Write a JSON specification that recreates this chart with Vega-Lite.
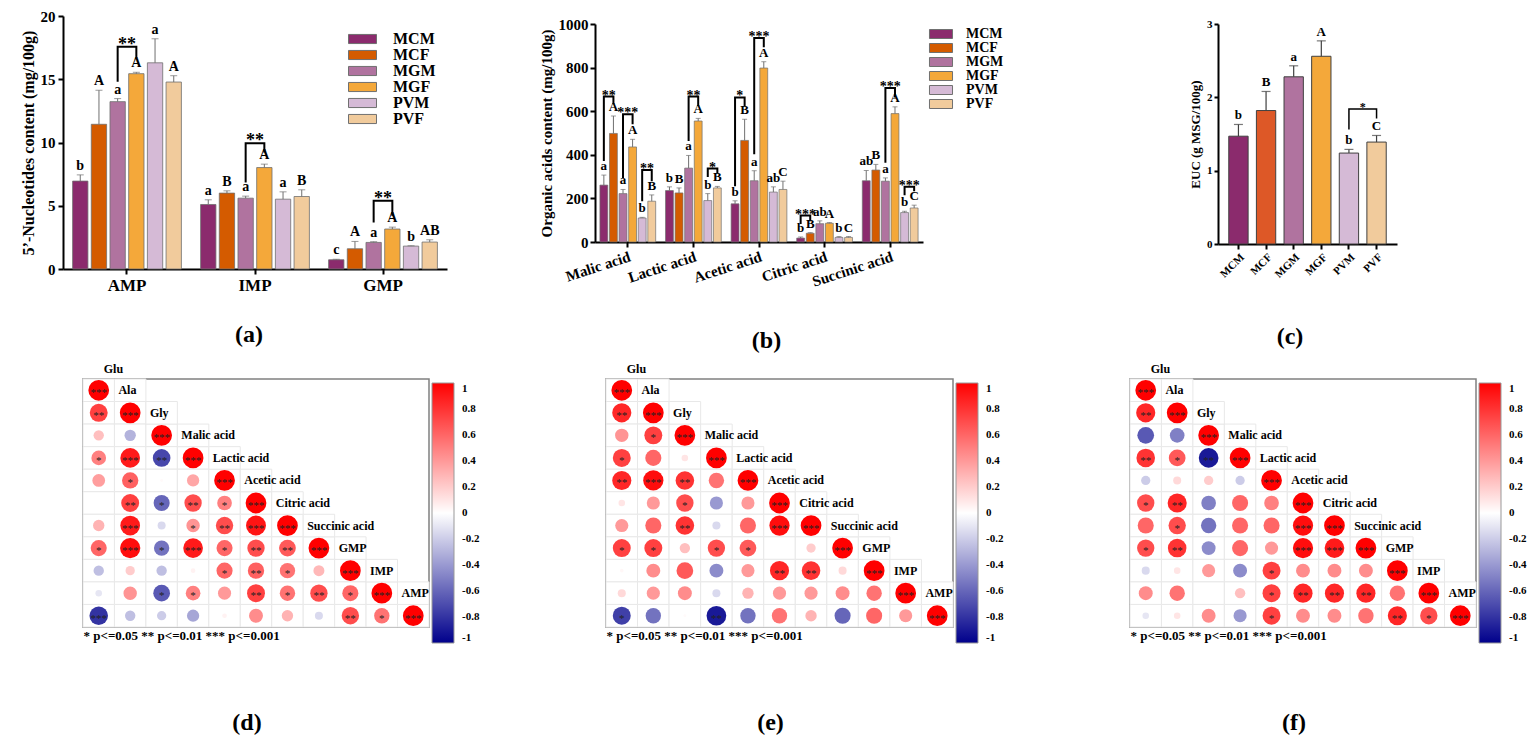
{
  "$schema": "https://vega.github.io/schema/vega-lite/v6.json",
  "background": "white",
  "padding": {"left": 20, "top": 9, "right": 5, "bottom": 5},
  "columns": 3,
  "bounds": "flush",
  "align": "each",
  "spacing": {"row": 110, "column": 177},
  "resolve": {
    "scale": {"color": "independent", "size": "independent", "xOffset": "independent"},
    "legend": {"color": "independent"}
  },
  "datasets": {
    "a": [
      {"cat": "AMP", "grp": "MCM", "v": 6.95, "e": 7.44, "lt": "b"},
      {"cat": "AMP", "grp": "MCF", "v": 11.44, "e": 14.13, "lt": "A"},
      {"cat": "AMP", "grp": "MGM", "v": 13.23, "e": 13.47, "lt": "a"},
      {"cat": "AMP", "grp": "MGF", "v": 15.44, "e": 15.55, "lt": "A"},
      {"cat": "AMP", "grp": "PVM", "v": 16.3, "e": 18.2, "lt": "a"},
      {"cat": "AMP", "grp": "PVF", "v": 14.78, "e": 15.28, "lt": "A"},
      {"cat": "IMP", "grp": "MCM", "v": 5.1, "e": 5.47, "lt": "a"},
      {"cat": "IMP", "grp": "MCF", "v": 6.0, "e": 6.18, "lt": "B"},
      {"cat": "IMP", "grp": "MGM", "v": 5.6, "e": 5.76, "lt": "a"},
      {"cat": "IMP", "grp": "MGF", "v": 8.02, "e": 8.29, "lt": "A"},
      {"cat": "IMP", "grp": "PVM", "v": 5.52, "e": 6.1, "lt": "a"},
      {"cat": "IMP", "grp": "PVF", "v": 5.73, "e": 6.26, "lt": "B"},
      {"cat": "GMP", "grp": "MCM", "v": 0.73, "e": 0.78, "lt": "c"},
      {"cat": "GMP", "grp": "MCF", "v": 1.6, "e": 2.18, "lt": "A"},
      {"cat": "GMP", "grp": "MGM", "v": 2.1, "e": 2.16, "lt": "a"},
      {"cat": "GMP", "grp": "MGF", "v": 3.16, "e": 3.31, "lt": "A"},
      {"cat": "GMP", "grp": "PVM", "v": 1.81, "e": 1.84, "lt": "b"},
      {"cat": "GMP", "grp": "PVF", "v": 2.13, "e": 2.31, "lt": "AB"}
    ],
    "abr": [
      {"cat": "AMP", "grp": "MGM", "y": 14.8, "id": 1, "k": 1},
      {"cat": "AMP", "grp": "MGM", "y": 17.57, "id": 1, "k": 2},
      {"cat": "AMP", "grp": "MGF", "y": 17.57, "id": 1, "k": 3},
      {"cat": "AMP", "grp": "MGF", "y": 16.7, "id": 1, "k": 4},
      {"cat": "IMP", "grp": "MGM", "y": 6.84, "id": 2, "k": 1},
      {"cat": "IMP", "grp": "MGM", "y": 9.94, "id": 2, "k": 2},
      {"cat": "IMP", "grp": "MGF", "y": 9.94, "id": 2, "k": 3},
      {"cat": "IMP", "grp": "MGF", "y": 9.2, "id": 2, "k": 4},
      {"cat": "GMP", "grp": "MGM", "y": 3.68, "id": 3, "k": 1},
      {"cat": "GMP", "grp": "MGM", "y": 5.39, "id": 3, "k": 2},
      {"cat": "GMP", "grp": "MGF", "y": 5.39, "id": 3, "k": 3},
      {"cat": "GMP", "grp": "MGF", "y": 4.2, "id": 3, "k": 4}
    ],
    "ast": [
      {"cat": "AMP", "grp": "MGM", "y": 17.57, "t": "**"},
      {"cat": "IMP", "grp": "MGM", "y": 9.94, "t": "**"},
      {"cat": "GMP", "grp": "MGM", "y": 5.39, "t": "**"}
    ],
    "b": [
      {"cat": "Malic acid", "grp": "MCM", "v": 261, "e": 307, "lt": "a"},
      {"cat": "Malic acid", "grp": "MCF", "v": 498, "e": 578, "lt": "A"},
      {"cat": "Malic acid", "grp": "MGM", "v": 222, "e": 241, "lt": "a"},
      {"cat": "Malic acid", "grp": "MGF", "v": 436, "e": 471, "lt": "A"},
      {"cat": "Malic acid", "grp": "PVM", "v": 110, "e": 113, "lt": "b"},
      {"cat": "Malic acid", "grp": "PVF", "v": 187, "e": 216, "lt": "B"},
      {"cat": "Lactic acid", "grp": "MCM", "v": 236, "e": 253, "lt": "b"},
      {"cat": "Lactic acid", "grp": "MCF", "v": 225, "e": 248, "lt": "B"},
      {"cat": "Lactic acid", "grp": "MGM", "v": 339, "e": 397, "lt": "a"},
      {"cat": "Lactic acid", "grp": "MGF", "v": 555, "e": 567, "lt": "A"},
      {"cat": "Lactic acid", "grp": "PVM", "v": 190, "e": 222, "lt": "b"},
      {"cat": "Lactic acid", "grp": "PVF", "v": 248, "e": 255, "lt": "B"},
      {"cat": "Acetic acid", "grp": "MCM", "v": 175, "e": 189, "lt": "b"},
      {"cat": "Acetic acid", "grp": "MCF", "v": 466, "e": 563, "lt": "B"},
      {"cat": "Acetic acid", "grp": "MGM", "v": 281, "e": 327, "lt": "a"},
      {"cat": "Acetic acid", "grp": "MGF", "v": 798, "e": 827, "lt": "A"},
      {"cat": "Acetic acid", "grp": "PVM", "v": 229, "e": 253, "lt": "ab"},
      {"cat": "Acetic acid", "grp": "PVF", "v": 241, "e": 279, "lt": "C"},
      {"cat": "Citric acid", "grp": "MCM", "v": 18, "e": 23, "lt": "b"},
      {"cat": "Citric acid", "grp": "MCF", "v": 40, "e": 43, "lt": "B"},
      {"cat": "Citric acid", "grp": "MGM", "v": 84, "e": 97, "lt": "ab"},
      {"cat": "Citric acid", "grp": "MGF", "v": 86, "e": 89, "lt": "A"},
      {"cat": "Citric acid", "grp": "PVM", "v": 21, "e": 25, "lt": "b"},
      {"cat": "Citric acid", "grp": "PVF", "v": 21, "e": 25, "lt": "C"},
      {"cat": "Succinic acid", "grp": "MCM", "v": 281, "e": 328, "lt": "ab"},
      {"cat": "Succinic acid", "grp": "MCF", "v": 330, "e": 356, "lt": "B"},
      {"cat": "Succinic acid", "grp": "MGM", "v": 279, "e": 294, "lt": "a"},
      {"cat": "Succinic acid", "grp": "MGF", "v": 589, "e": 620, "lt": "A"},
      {"cat": "Succinic acid", "grp": "PVM", "v": 135, "e": 141, "lt": "b"},
      {"cat": "Succinic acid", "grp": "PVF", "v": 156, "e": 169, "lt": "C"}
    ],
    "bbr": [
      {"cat": "Malic acid", "grp": "MCM", "y": 371, "id": 1, "k": 1},
      {"cat": "Malic acid", "grp": "MCM", "y": 667, "id": 1, "k": 2},
      {"cat": "Malic acid", "grp": "MCF", "y": 667, "id": 1, "k": 3},
      {"cat": "Malic acid", "grp": "MCF", "y": 632, "id": 1, "k": 4},
      {"cat": "Malic acid", "grp": "MGM", "y": 294, "id": 2, "k": 1},
      {"cat": "Malic acid", "grp": "MGM", "y": 586, "id": 2, "k": 2},
      {"cat": "Malic acid", "grp": "MGF", "y": 586, "id": 2, "k": 3},
      {"cat": "Malic acid", "grp": "MGF", "y": 540, "id": 2, "k": 4},
      {"cat": "Malic acid", "grp": "PVM", "y": 187, "id": 3, "k": 1},
      {"cat": "Malic acid", "grp": "PVM", "y": 330, "id": 3, "k": 2},
      {"cat": "Malic acid", "grp": "PVF", "y": 330, "id": 3, "k": 3},
      {"cat": "Malic acid", "grp": "PVF", "y": 279, "id": 3, "k": 4},
      {"cat": "Lactic acid", "grp": "MGM", "y": 463, "id": 4, "k": 1},
      {"cat": "Lactic acid", "grp": "MGM", "y": 667, "id": 4, "k": 2},
      {"cat": "Lactic acid", "grp": "MGF", "y": 667, "id": 4, "k": 3},
      {"cat": "Lactic acid", "grp": "MGF", "y": 624, "id": 4, "k": 4},
      {"cat": "Lactic acid", "grp": "PVM", "y": 298, "id": 5, "k": 1},
      {"cat": "Lactic acid", "grp": "PVM", "y": 337, "id": 5, "k": 2},
      {"cat": "Lactic acid", "grp": "PVF", "y": 337, "id": 5, "k": 3},
      {"cat": "Lactic acid", "grp": "PVF", "y": 317, "id": 5, "k": 4},
      {"cat": "Acetic acid", "grp": "MCM", "y": 256, "id": 6, "k": 1},
      {"cat": "Acetic acid", "grp": "MCM", "y": 663, "id": 6, "k": 2},
      {"cat": "Acetic acid", "grp": "MCF", "y": 663, "id": 6, "k": 3},
      {"cat": "Acetic acid", "grp": "MCF", "y": 624, "id": 6, "k": 4},
      {"cat": "Acetic acid", "grp": "MGM", "y": 402, "id": 7, "k": 1},
      {"cat": "Acetic acid", "grp": "MGM", "y": 936, "id": 7, "k": 2},
      {"cat": "Acetic acid", "grp": "MGF", "y": 936, "id": 7, "k": 3},
      {"cat": "Acetic acid", "grp": "MGF", "y": 893, "id": 7, "k": 4},
      {"cat": "Citric acid", "grp": "MCM", "y": 83, "id": 8, "k": 1},
      {"cat": "Citric acid", "grp": "MCM", "y": 121, "id": 8, "k": 2},
      {"cat": "Citric acid", "grp": "MCF", "y": 121, "id": 8, "k": 3},
      {"cat": "Citric acid", "grp": "MCF", "y": 95, "id": 8, "k": 4},
      {"cat": "Succinic acid", "grp": "MGM", "y": 363, "id": 9, "k": 1},
      {"cat": "Succinic acid", "grp": "MGM", "y": 706, "id": 9, "k": 2},
      {"cat": "Succinic acid", "grp": "MGF", "y": 706, "id": 9, "k": 3},
      {"cat": "Succinic acid", "grp": "MGF", "y": 663, "id": 9, "k": 4},
      {"cat": "Succinic acid", "grp": "PVM", "y": 215, "id": 10, "k": 1},
      {"cat": "Succinic acid", "grp": "PVM", "y": 253, "id": 10, "k": 2},
      {"cat": "Succinic acid", "grp": "PVF", "y": 253, "id": 10, "k": 3},
      {"cat": "Succinic acid", "grp": "PVF", "y": 233, "id": 10, "k": 4}
    ],
    "bst": [
      {"cat": "Malic acid", "grp": "MCM", "y": 667, "t": "**"},
      {"cat": "Malic acid", "grp": "MGM", "y": 586, "t": "***"},
      {"cat": "Malic acid", "grp": "PVM", "y": 330, "t": "**"},
      {"cat": "Lactic acid", "grp": "MGM", "y": 667, "t": "**"},
      {"cat": "Lactic acid", "grp": "PVM", "y": 337, "t": "*"},
      {"cat": "Acetic acid", "grp": "MCM", "y": 663, "t": "*"},
      {"cat": "Acetic acid", "grp": "MGM", "y": 936, "t": "***"},
      {"cat": "Citric acid", "grp": "MCM", "y": 121, "t": "***"},
      {"cat": "Succinic acid", "grp": "MGM", "y": 706, "t": "***"},
      {"cat": "Succinic acid", "grp": "PVM", "y": 253, "t": "***"}
    ],
    "c": [
      {"grp": "MCM", "v": 1.47, "e": 1.63, "lt": "b"},
      {"grp": "MCF", "v": 1.82, "e": 2.08, "lt": "B"},
      {"grp": "MGM", "v": 2.28, "e": 2.43, "lt": "a"},
      {"grp": "MGF", "v": 2.56, "e": 2.77, "lt": "A"},
      {"grp": "PVM", "v": 1.24, "e": 1.29, "lt": "b"},
      {"grp": "PVF", "v": 1.39, "e": 1.48, "lt": "C"}
    ],
    "cbr": [
      {"grp": "PVM", "y": 1.56, "id": 1, "k": 1},
      {"grp": "PVM", "y": 1.84, "id": 1, "k": 2},
      {"grp": "PVF", "y": 1.84, "id": 1, "k": 3},
      {"grp": "PVF", "y": 1.71, "id": 1, "k": 4}
    ],
    "cst": [{"grp": "PVM", "y": 1.84, "t": "*"}],
    "lab": [
      {"name": "Ala", "row": "Glu"},
      {"name": "Gly", "row": "Ala"},
      {"name": "Malic acid", "row": "Gly"},
      {"name": "Lactic acid", "row": "Malic acid"},
      {"name": "Acetic acid", "row": "Lactic acid"},
      {"name": "Citric acid", "row": "Acetic acid"},
      {"name": "Succinic acid", "row": "Citric acid"},
      {"name": "GMP", "row": "Succinic acid"},
      {"name": "IMP", "row": "GMP"},
      {"name": "AMP", "row": "IMP"}
    ],
    "d": [
      {"row": "Glu", "col": "Glu", "r": 1, "s": "***"},
      {"row": "Ala", "col": "Glu", "r": 0.75, "s": "**"},
      {"row": "Ala", "col": "Ala", "r": 1, "s": "***"},
      {"row": "Gly", "col": "Glu", "r": 0.25, "s": ""},
      {"row": "Gly", "col": "Ala", "r": -0.3, "s": ""},
      {"row": "Gly", "col": "Gly", "r": 1, "s": "***"},
      {"row": "Malic acid", "col": "Glu", "r": 0.5, "s": "*"},
      {"row": "Malic acid", "col": "Ala", "r": 0.9, "s": "***"},
      {"row": "Malic acid", "col": "Gly", "r": -0.72, "s": "**"},
      {"row": "Malic acid", "col": "Malic acid", "r": 1, "s": "***"},
      {"row": "Lactic acid", "col": "Glu", "r": 0.38, "s": ""},
      {"row": "Lactic acid", "col": "Ala", "r": 0.62, "s": "*"},
      {"row": "Lactic acid", "col": "Gly", "r": 0.02, "s": ""},
      {"row": "Lactic acid", "col": "Malic acid", "r": 0.35, "s": ""},
      {"row": "Lactic acid", "col": "Lactic acid", "r": 1, "s": "***"},
      {"row": "Acetic acid", "col": "Glu", "r": 0, "s": ""},
      {"row": "Acetic acid", "col": "Ala", "r": 0.75, "s": "**"},
      {"row": "Acetic acid", "col": "Gly", "r": -0.6, "s": "*"},
      {"row": "Acetic acid", "col": "Malic acid", "r": 0.7, "s": "**"},
      {"row": "Acetic acid", "col": "Lactic acid", "r": 0.5, "s": "*"},
      {"row": "Acetic acid", "col": "Acetic acid", "r": 1, "s": "***"},
      {"row": "Citric acid", "col": "Glu", "r": 0.3, "s": ""},
      {"row": "Citric acid", "col": "Ala", "r": 0.9, "s": "***"},
      {"row": "Citric acid", "col": "Gly", "r": -0.15, "s": ""},
      {"row": "Citric acid", "col": "Malic acid", "r": 0.42, "s": "*"},
      {"row": "Citric acid", "col": "Lactic acid", "r": 0.7, "s": "**"},
      {"row": "Citric acid", "col": "Acetic acid", "r": 0.92, "s": "***"},
      {"row": "Citric acid", "col": "Citric acid", "r": 1, "s": "***"},
      {"row": "Succinic acid", "col": "Glu", "r": 0.6, "s": "*"},
      {"row": "Succinic acid", "col": "Ala", "r": 0.95, "s": "***"},
      {"row": "Succinic acid", "col": "Gly", "r": -0.55, "s": "*"},
      {"row": "Succinic acid", "col": "Malic acid", "r": 0.9, "s": "***"},
      {"row": "Succinic acid", "col": "Lactic acid", "r": 0.6, "s": "*"},
      {"row": "Succinic acid", "col": "Acetic acid", "r": 0.7, "s": "**"},
      {"row": "Succinic acid", "col": "Citric acid", "r": 0.65, "s": "**"},
      {"row": "Succinic acid", "col": "Succinic acid", "r": 1, "s": "***"},
      {"row": "GMP", "col": "Glu", "r": -0.25, "s": ""},
      {"row": "GMP", "col": "Ala", "r": 0.2, "s": ""},
      {"row": "GMP", "col": "Gly", "r": -0.25, "s": ""},
      {"row": "GMP", "col": "Malic acid", "r": 0.05, "s": ""},
      {"row": "GMP", "col": "Lactic acid", "r": 0.6, "s": "*"},
      {"row": "GMP", "col": "Acetic acid", "r": 0.62, "s": "**"},
      {"row": "GMP", "col": "Citric acid", "r": 0.55, "s": "*"},
      {"row": "GMP", "col": "Succinic acid", "r": 0.28, "s": ""},
      {"row": "GMP", "col": "GMP", "r": 1, "s": "***"},
      {"row": "IMP", "col": "Glu", "r": -0.1, "s": ""},
      {"row": "IMP", "col": "Ala", "r": 0.42, "s": ""},
      {"row": "IMP", "col": "Gly", "r": -0.65, "s": "*"},
      {"row": "IMP", "col": "Malic acid", "r": 0.5, "s": "*"},
      {"row": "IMP", "col": "Lactic acid", "r": 0.4, "s": ""},
      {"row": "IMP", "col": "Acetic acid", "r": 0.75, "s": "**"},
      {"row": "IMP", "col": "Citric acid", "r": 0.55, "s": "*"},
      {"row": "IMP", "col": "Succinic acid", "r": 0.7, "s": "**"},
      {"row": "IMP", "col": "GMP", "r": 0.6, "s": "*"},
      {"row": "IMP", "col": "IMP", "r": 1, "s": "***"},
      {"row": "AMP", "col": "Glu", "r": -0.8, "s": "***"},
      {"row": "AMP", "col": "Ala", "r": -0.25, "s": ""},
      {"row": "AMP", "col": "Gly", "r": -0.2, "s": ""},
      {"row": "AMP", "col": "Malic acid", "r": -0.35, "s": ""},
      {"row": "AMP", "col": "Lactic acid", "r": 0.05, "s": ""},
      {"row": "AMP", "col": "Acetic acid", "r": 0.45, "s": ""},
      {"row": "AMP", "col": "Citric acid", "r": 0.3, "s": ""},
      {"row": "AMP", "col": "Succinic acid", "r": -0.15, "s": ""},
      {"row": "AMP", "col": "GMP", "r": 0.7, "s": "**"},
      {"row": "AMP", "col": "IMP", "r": 0.55, "s": "*"},
      {"row": "AMP", "col": "AMP", "r": 1, "s": "***"}
    ],
    "e": [
      {"row": "Glu", "col": "Glu", "r": 1, "s": "***"},
      {"row": "Ala", "col": "Glu", "r": 0.85, "s": "**"},
      {"row": "Ala", "col": "Ala", "r": 1, "s": "***"},
      {"row": "Gly", "col": "Glu", "r": 0.42, "s": ""},
      {"row": "Gly", "col": "Ala", "r": 0.75, "s": "*"},
      {"row": "Gly", "col": "Gly", "r": 1, "s": "***"},
      {"row": "Malic acid", "col": "Glu", "r": 0.75, "s": "*"},
      {"row": "Malic acid", "col": "Ala", "r": 0.6, "s": ""},
      {"row": "Malic acid", "col": "Gly", "r": 0.1, "s": ""},
      {"row": "Malic acid", "col": "Malic acid", "r": 1, "s": "***"},
      {"row": "Lactic acid", "col": "Glu", "r": 0.85, "s": "**"},
      {"row": "Lactic acid", "col": "Ala", "r": 0.95, "s": "***"},
      {"row": "Lactic acid", "col": "Gly", "r": 0.8, "s": "**"},
      {"row": "Lactic acid", "col": "Malic acid", "r": 0.55, "s": ""},
      {"row": "Lactic acid", "col": "Lactic acid", "r": 1, "s": "***"},
      {"row": "Acetic acid", "col": "Glu", "r": 0.1, "s": ""},
      {"row": "Acetic acid", "col": "Ala", "r": 0.4, "s": ""},
      {"row": "Acetic acid", "col": "Gly", "r": 0.7, "s": "*"},
      {"row": "Acetic acid", "col": "Malic acid", "r": -0.4, "s": ""},
      {"row": "Acetic acid", "col": "Lactic acid", "r": 0.4, "s": ""},
      {"row": "Acetic acid", "col": "Acetic acid", "r": 1, "s": "***"},
      {"row": "Citric acid", "col": "Glu", "r": 0.4, "s": ""},
      {"row": "Citric acid", "col": "Ala", "r": 0.6, "s": ""},
      {"row": "Citric acid", "col": "Gly", "r": 0.8, "s": "**"},
      {"row": "Citric acid", "col": "Malic acid", "r": -0.15, "s": ""},
      {"row": "Citric acid", "col": "Lactic acid", "r": 0.6, "s": ""},
      {"row": "Citric acid", "col": "Acetic acid", "r": 0.95, "s": "***"},
      {"row": "Citric acid", "col": "Citric acid", "r": 1, "s": "***"},
      {"row": "Succinic acid", "col": "Glu", "r": 0.75, "s": "*"},
      {"row": "Succinic acid", "col": "Ala", "r": 0.75, "s": "*"},
      {"row": "Succinic acid", "col": "Gly", "r": 0.25, "s": ""},
      {"row": "Succinic acid", "col": "Malic acid", "r": 0.7, "s": "*"},
      {"row": "Succinic acid", "col": "Lactic acid", "r": 0.65, "s": "*"},
      {"row": "Succinic acid", "col": "Acetic acid", "r": 0, "s": ""},
      {"row": "Succinic acid", "col": "Citric acid", "r": 0.2, "s": ""},
      {"row": "Succinic acid", "col": "Succinic acid", "r": 1, "s": "***"},
      {"row": "GMP", "col": "Glu", "r": 0.03, "s": ""},
      {"row": "GMP", "col": "Ala", "r": 0.45, "s": ""},
      {"row": "GMP", "col": "Gly", "r": 0.65, "s": ""},
      {"row": "GMP", "col": "Malic acid", "r": -0.45, "s": ""},
      {"row": "GMP", "col": "Lactic acid", "r": 0.4, "s": ""},
      {"row": "GMP", "col": "Acetic acid", "r": 0.85, "s": "**"},
      {"row": "GMP", "col": "Citric acid", "r": 0.8, "s": "**"},
      {"row": "GMP", "col": "Succinic acid", "r": 0.15, "s": ""},
      {"row": "GMP", "col": "GMP", "r": 1, "s": "***"},
      {"row": "IMP", "col": "Glu", "r": 0.15, "s": ""},
      {"row": "IMP", "col": "Ala", "r": 0.4, "s": ""},
      {"row": "IMP", "col": "Gly", "r": 0.45, "s": ""},
      {"row": "IMP", "col": "Malic acid", "r": -0.15, "s": ""},
      {"row": "IMP", "col": "Lactic acid", "r": 0.3, "s": ""},
      {"row": "IMP", "col": "Acetic acid", "r": 0.4, "s": ""},
      {"row": "IMP", "col": "Citric acid", "r": 0.4, "s": ""},
      {"row": "IMP", "col": "Succinic acid", "r": 0.45, "s": ""},
      {"row": "IMP", "col": "GMP", "r": 0.55, "s": ""},
      {"row": "IMP", "col": "IMP", "r": 1, "s": "***"},
      {"row": "AMP", "col": "Glu", "r": -0.75, "s": "*"},
      {"row": "AMP", "col": "Ala", "r": -0.55, "s": ""},
      {"row": "AMP", "col": "Gly", "r": 0.02, "s": ""},
      {"row": "AMP", "col": "Malic acid", "r": -0.9, "s": "**"},
      {"row": "AMP", "col": "Lactic acid", "r": -0.55, "s": ""},
      {"row": "AMP", "col": "Acetic acid", "r": 0.55, "s": ""},
      {"row": "AMP", "col": "Citric acid", "r": 0.3, "s": ""},
      {"row": "AMP", "col": "Succinic acid", "r": -0.6, "s": ""},
      {"row": "AMP", "col": "GMP", "r": 0.6, "s": ""},
      {"row": "AMP", "col": "IMP", "r": 0.4, "s": ""},
      {"row": "AMP", "col": "AMP", "r": 1, "s": "***"}
    ],
    "f": [
      {"row": "Glu", "col": "Glu", "r": 1, "s": "***"},
      {"row": "Ala", "col": "Glu", "r": 0.85, "s": "**"},
      {"row": "Ala", "col": "Ala", "r": 1, "s": "***"},
      {"row": "Gly", "col": "Glu", "r": -0.65, "s": ""},
      {"row": "Gly", "col": "Ala", "r": -0.5, "s": ""},
      {"row": "Gly", "col": "Gly", "r": 1, "s": "***"},
      {"row": "Malic acid", "col": "Glu", "r": 0.8, "s": "**"},
      {"row": "Malic acid", "col": "Ala", "r": 0.65, "s": "*"},
      {"row": "Malic acid", "col": "Gly", "r": -0.9, "s": "**"},
      {"row": "Malic acid", "col": "Malic acid", "r": 1, "s": "***"},
      {"row": "Lactic acid", "col": "Glu", "r": -0.2, "s": ""},
      {"row": "Lactic acid", "col": "Ala", "r": 0.15, "s": ""},
      {"row": "Lactic acid", "col": "Gly", "r": 0.2, "s": ""},
      {"row": "Lactic acid", "col": "Malic acid", "r": -0.2, "s": ""},
      {"row": "Lactic acid", "col": "Lactic acid", "r": 1, "s": "***"},
      {"row": "Acetic acid", "col": "Glu", "r": 0.7, "s": "*"},
      {"row": "Acetic acid", "col": "Ala", "r": 0.85, "s": "**"},
      {"row": "Acetic acid", "col": "Gly", "r": -0.5, "s": ""},
      {"row": "Acetic acid", "col": "Malic acid", "r": 0.6, "s": ""},
      {"row": "Acetic acid", "col": "Lactic acid", "r": 0.5, "s": ""},
      {"row": "Acetic acid", "col": "Acetic acid", "r": 1, "s": "***"},
      {"row": "Citric acid", "col": "Glu", "r": 0.6, "s": ""},
      {"row": "Citric acid", "col": "Ala", "r": 0.7, "s": "*"},
      {"row": "Citric acid", "col": "Gly", "r": -0.55, "s": ""},
      {"row": "Citric acid", "col": "Malic acid", "r": 0.6, "s": ""},
      {"row": "Citric acid", "col": "Lactic acid", "r": 0.6, "s": ""},
      {"row": "Citric acid", "col": "Acetic acid", "r": 0.95, "s": "***"},
      {"row": "Citric acid", "col": "Citric acid", "r": 1, "s": "***"},
      {"row": "Succinic acid", "col": "Glu", "r": 0.7, "s": "*"},
      {"row": "Succinic acid", "col": "Ala", "r": 0.8, "s": "**"},
      {"row": "Succinic acid", "col": "Gly", "r": -0.45, "s": ""},
      {"row": "Succinic acid", "col": "Malic acid", "r": 0.6, "s": ""},
      {"row": "Succinic acid", "col": "Lactic acid", "r": 0.4, "s": ""},
      {"row": "Succinic acid", "col": "Acetic acid", "r": 0.95, "s": "***"},
      {"row": "Succinic acid", "col": "Citric acid", "r": 0.9, "s": "***"},
      {"row": "Succinic acid", "col": "Succinic acid", "r": 1, "s": "***"},
      {"row": "GMP", "col": "Glu", "r": -0.15, "s": ""},
      {"row": "GMP", "col": "Ala", "r": 0.1, "s": ""},
      {"row": "GMP", "col": "Gly", "r": 0.4, "s": ""},
      {"row": "GMP", "col": "Malic acid", "r": -0.45, "s": ""},
      {"row": "GMP", "col": "Lactic acid", "r": 0.75, "s": "*"},
      {"row": "GMP", "col": "Acetic acid", "r": 0.45, "s": ""},
      {"row": "GMP", "col": "Citric acid", "r": 0.45, "s": ""},
      {"row": "GMP", "col": "Succinic acid", "r": 0.45, "s": ""},
      {"row": "GMP", "col": "GMP", "r": 1, "s": "***"},
      {"row": "IMP", "col": "Glu", "r": 0.45, "s": ""},
      {"row": "IMP", "col": "Ala", "r": 0.55, "s": ""},
      {"row": "IMP", "col": "Gly", "r": 0, "s": ""},
      {"row": "IMP", "col": "Malic acid", "r": 0.25, "s": ""},
      {"row": "IMP", "col": "Lactic acid", "r": 0.75, "s": "*"},
      {"row": "IMP", "col": "Acetic acid", "r": 0.85, "s": "**"},
      {"row": "IMP", "col": "Citric acid", "r": 0.85, "s": "**"},
      {"row": "IMP", "col": "Succinic acid", "r": 0.85, "s": "**"},
      {"row": "IMP", "col": "GMP", "r": 0.55, "s": ""},
      {"row": "IMP", "col": "IMP", "r": 1, "s": "***"},
      {"row": "AMP", "col": "Glu", "r": -0.1, "s": ""},
      {"row": "AMP", "col": "Ala", "r": 0.1, "s": ""},
      {"row": "AMP", "col": "Gly", "r": 0.45, "s": ""},
      {"row": "AMP", "col": "Malic acid", "r": -0.4, "s": ""},
      {"row": "AMP", "col": "Lactic acid", "r": 0.75, "s": "*"},
      {"row": "AMP", "col": "Acetic acid", "r": 0.45, "s": ""},
      {"row": "AMP", "col": "Citric acid", "r": 0.45, "s": ""},
      {"row": "AMP", "col": "Succinic acid", "r": 0.55, "s": ""},
      {"row": "AMP", "col": "GMP", "r": 0.85, "s": "**"},
      {"row": "AMP", "col": "IMP", "r": 0.7, "s": "*"},
      {"row": "AMP", "col": "AMP", "r": 1, "s": "***"}
    ]
  },
  "concat": [
    {
      "width": 346,
      "height": 253,
      "title": {"text": "(a)", "offset": 30, "dx": -7},
      "data": {"name": "a"},
      "layer": [
        {
          "mark": {"type": "bar", "stroke": "#707070", "strokeWidth": 0.8},
          "encoding": {
            "x": {"field": "cat", "type": "nominal",
              "scale": {"domain": ["AMP", "IMP", "GMP"], "range": [-20, 364], "paddingInner": 0.15, "paddingOuter": 0.075},
              "axis": {"title": null, "labelAngle": 0, "labelFontSize": 17, "labelPadding": 3}},
            "xOffset": {"field": "grp", "type": "nominal",
              "scale": {"domain": ["MCM", "MCF", "MGM", "MGF", "PVM", "PVF"], "paddingInner": 0.18, "paddingOuter": 0}},
            "y": {"field": "v", "type": "quantitative", "scale": {"domain": [0, 20]},
              "axis": {"title": "5’-Nucleotides content (mg/100g)", "values": [0, 5, 10, 15, 20], "offset": 20, "labelFontSize": 15, "titleFontSize": 16, "labelPadding": 3}},
            "color": {"field": "grp", "type": "nominal",
              "scale": {"domain": ["MCM", "MCF", "MGM", "MGF", "PVM", "PVF"], "range": ["#8B2B6D", "#D45B00", "#B0739F", "#F4A83A", "#D5BAD6", "#F1CB9C"]},
              "legend": {"orient": "none", "legendX": 271.5, "legendY": 15, "title": null, "symbolType": "M-2,-0.65H2V0.65H-2Z", "symbolSize": 196, "symbolStrokeColor": "#707070", "symbolStrokeWidth": 1, "symbolOpacity": 1, "labelFontSize": 16, "labelOffset": 22.5, "rowPadding": -4}}
          }
        },
        {
          "mark": {"type": "rule", "color": "#707070", "strokeWidth": 1},
          "encoding": {
            "x": {"field": "cat", "type": "nominal"},
            "xOffset": {"field": "grp", "type": "nominal"},
            "y": {"field": "v", "type": "quantitative"},
            "y2": {"field": "e"}
          }
        },
        {
          "mark": {"type": "tick", "color": "#707070", "thickness": 1, "size": 7},
          "encoding": {
            "x": {"field": "cat", "type": "nominal"},
            "xOffset": {"field": "grp", "type": "nominal"},
            "y": {"field": "e", "type": "quantitative"}
          }
        },
        {
          "mark": {"type": "text", "baseline": "bottom", "dy": -2, "fontSize": 14, "fontWeight": "bold", "font": "Liberation Serif"},
          "encoding": {
            "x": {"field": "cat", "type": "nominal"},
            "xOffset": {"field": "grp", "type": "nominal"},
            "y": {"field": "e", "type": "quantitative"},
            "text": {"field": "lt"}
          }
        },
        {
          "data": {"name": "abr"},
          "mark": {"type": "line", "color": "#000", "strokeWidth": 2},
          "encoding": {
            "x": {"field": "cat", "type": "nominal"},
            "xOffset": {"field": "grp", "type": "nominal"},
            "y": {"field": "y", "type": "quantitative"},
            "detail": {"field": "id", "type": "nominal"},
            "order": {"field": "k"}
          }
        },
        {
          "data": {"name": "ast"},
          "mark": {"type": "text", "fontSize": 18, "fontWeight": "bold", "font": "Liberation Serif", "baseline": "alphabetic", "dy": 3, "dx": 9.35},
          "encoding": {
            "x": {"field": "cat", "type": "nominal"},
            "xOffset": {"field": "grp", "type": "nominal"},
            "y": {"field": "y", "type": "quantitative"},
            "text": {"field": "t"}
          }
        }
      ]
    },
    {
      "width": 347,
      "height": 226,
      "title": {"text": "(b)", "offset": 40, "dx": -13},
      "data": {"name": "b"},
      "layer": [
        {
          "mark": {"type": "bar", "stroke": "#707070", "strokeWidth": 0.7},
          "encoding": {
            "x": {"field": "cat", "type": "nominal",
              "scale": {"domain": ["Malic acid", "Lactic acid", "Acetic acid", "Citric acid", "Succinic acid"], "range": [-11, 317], "paddingInner": 0.15, "paddingOuter": 0.075},
              "axis": {"title": null, "labelAngle": -18, "labelAlign": "right", "labelBaseline": "top", "labelFontSize": 15, "labelPadding": 2}},
            "xOffset": {"field": "grp", "type": "nominal",
              "scale": {"domain": ["MCM", "MCF", "MGM", "MGF", "PVM", "PVF"], "paddingInner": 0.18, "paddingOuter": 0}},
            "y": {"field": "v", "type": "quantitative", "scale": {"domain": [0, 1000], "range": [226, 8]},
              "axis": {"title": "Organic acids content (mg/100g)", "values": [0, 200, 400, 600, 800, 1000], "format": "d", "offset": 11, "labelFontSize": 15, "titleFontSize": 15, "labelPadding": 2}},
            "color": {"field": "grp", "type": "nominal",
              "scale": {"domain": ["MCM", "MCF", "MGM", "MGF", "PVM", "PVF"], "range": ["#8B2B6D", "#D45B00", "#B0739F", "#F4A83A", "#D5BAD6", "#F1CB9C"]},
              "legend": {"orient": "none", "legendX": 328, "legendY": 11, "title": null, "symbolType": "M-1.92,-0.75H1.92V0.75H-1.92Z", "symbolSize": 144, "symbolStrokeColor": "#707070", "symbolStrokeWidth": 1, "symbolOpacity": 1, "labelFontSize": 14, "labelOffset": 18, "rowPadding": -4}}
          }
        },
        {
          "mark": {"type": "rule", "color": "#707070", "strokeWidth": 1},
          "encoding": {
            "x": {"field": "cat", "type": "nominal"},
            "xOffset": {"field": "grp", "type": "nominal"},
            "y": {"field": "v", "type": "quantitative"},
            "y2": {"field": "e"}
          }
        },
        {
          "mark": {"type": "tick", "color": "#707070", "thickness": 1, "size": 5},
          "encoding": {
            "x": {"field": "cat", "type": "nominal"},
            "xOffset": {"field": "grp", "type": "nominal"},
            "y": {"field": "e", "type": "quantitative"}
          }
        },
        {
          "mark": {"type": "text", "baseline": "bottom", "dy": -2, "fontSize": 13, "fontWeight": "bold", "font": "Liberation Serif"},
          "encoding": {
            "x": {"field": "cat", "type": "nominal"},
            "xOffset": {"field": "grp", "type": "nominal"},
            "y": {"field": "e", "type": "quantitative"},
            "text": {"field": "lt"}
          }
        },
        {
          "data": {"name": "bbr"},
          "mark": {"type": "line", "color": "#000", "strokeWidth": 2},
          "encoding": {
            "x": {"field": "cat", "type": "nominal"},
            "xOffset": {"field": "grp", "type": "nominal"},
            "y": {"field": "y", "type": "quantitative"},
            "detail": {"field": "id", "type": "nominal"},
            "order": {"field": "k"}
          }
        },
        {
          "data": {"name": "bst"},
          "mark": {"type": "text", "fontSize": 14, "fontWeight": "bold", "font": "Liberation Serif", "baseline": "alphabetic", "dy": 3, "dx": 4.8},
          "encoding": {
            "x": {"field": "cat", "type": "nominal"},
            "xOffset": {"field": "grp", "type": "nominal"},
            "y": {"field": "y", "type": "quantitative"},
            "text": {"field": "t"}
          }
        }
      ]
    },
    {
      "width": 346,
      "height": 228,
      "title": {"text": "(c)", "offset": 45, "dx": -13},
      "data": {"name": "c"},
      "layer": [
        {
          "mark": {"type": "bar", "stroke": "#404040", "strokeWidth": 1},
          "encoding": {
            "x": {"field": "grp", "type": "nominal",
              "scale": {"domain": ["MCM", "MCF", "MGM", "MGF", "PVM", "PVF"], "range": [88, 267], "paddingInner": 0.3, "paddingOuter": 0.39},
              "axis": {"title": null, "labelAngle": -45, "labelAlign": "right", "labelBaseline": "top", "labelFontSize": 11, "labelPadding": 2}},
            "y": {"field": "v", "type": "quantitative", "scale": {"domain": [0, 3], "range": [228, 8]},
              "axis": {"title": "EUC (g MSG/100g)", "values": [0, 1, 2, 3], "format": "d", "offset": -88, "labelFontSize": 11, "titleFontSize": 13, "labelPadding": 2, "tickSize": 4}},
            "color": {"field": "grp", "type": "nominal",
              "scale": {"domain": ["MCM", "MCF", "MGM", "MGF", "PVM", "PVF"], "range": ["#8B2B6D", "#DD5827", "#B0739F", "#F4A83A", "#D5BAD6", "#F1CB9C"]},
              "legend": null}
          }
        },
        {
          "mark": {"type": "rule", "color": "#404040", "strokeWidth": 1.2},
          "encoding": {
            "x": {"field": "grp", "type": "nominal"},
            "y": {"field": "v", "type": "quantitative"},
            "y2": {"field": "e"}
          }
        },
        {
          "mark": {"type": "tick", "color": "#404040", "thickness": 1.2, "size": 9},
          "encoding": {
            "x": {"field": "grp", "type": "nominal"},
            "y": {"field": "e", "type": "quantitative"}
          }
        },
        {
          "mark": {"type": "text", "baseline": "bottom", "dy": -2, "fontSize": 13, "fontWeight": "bold", "font": "Liberation Serif"},
          "encoding": {
            "x": {"field": "grp", "type": "nominal"},
            "y": {"field": "e", "type": "quantitative"},
            "text": {"field": "lt"}
          }
        },
        {
          "data": {"name": "cbr"},
          "mark": {"type": "line", "color": "#000", "strokeWidth": 1.5},
          "encoding": {
            "x": {"field": "grp", "type": "nominal"},
            "y": {"field": "y", "type": "quantitative"},
            "detail": {"field": "id", "type": "nominal"},
            "order": {"field": "k"}
          }
        },
        {
          "data": {"name": "cst"},
          "mark": {"type": "text", "fontSize": 12, "fontWeight": "bold", "font": "Liberation Serif", "baseline": "alphabetic", "dy": 2, "dx": 13.8},
          "encoding": {
            "x": {"field": "grp", "type": "nominal"},
            "y": {"field": "y", "type": "quantitative"},
            "text": {"field": "t"}
          }
        }
      ]
    },
    {
      "width": 346,
      "height": 248,
      "view": {"stroke": "#808080", "strokeWidth": 1.5},
      "title": {"text": "(d)", "offset": 67, "dx": -9},
      "resolve": {"axis": {"x": "independent"}},
      "layer": [
        {
          "data": {"name": "d"},
          "mark": {"type": "rect", "fill": "white", "stroke": "#e8e8e8", "strokeWidth": 1},
          "encoding": {
            "x": {"field": "col", "type": "nominal",
              "scale": {"domain": ["Glu", "Ala", "Gly", "Malic acid", "Lactic acid", "Acetic acid", "Citric acid", "Succinic acid", "GMP", "IMP", "AMP"], "paddingInner": 0, "paddingOuter": 0},
              "axis": {"orient": "top", "title": null, "domain": false, "ticks": false, "labelExpr": "datum.value == 'Glu' ? 'Glu' : ''", "bandPosition": 0, "labelAlign": "left", "labelOffset": 5, "labelPadding": 4, "labelFontSize": 12, "labelAngle": 0}},
            "y": {"field": "row", "type": "nominal",
              "scale": {"domain": ["Glu", "Ala", "Gly", "Malic acid", "Lactic acid", "Acetic acid", "Citric acid", "Succinic acid", "GMP", "IMP", "AMP"], "paddingInner": 0, "paddingOuter": 0},
              "axis": {"title": null, "domain": false, "ticks": false, "labelPadding": 4, "labelFontSize": 12}}
          }
        },
        {
          "data": {"name": "lab"},
          "mark": {"type": "rect", "fill": "white", "stroke": "#e8e8e8", "strokeWidth": 1},
          "encoding": {
            "x": {"field": "name", "type": "nominal", "axis": null},
            "y": {"field": "row", "type": "nominal", "axis": null}
          }
        },
        {
          "data": {"name": "lab"},
          "mark": {"type": "text", "align": "left", "dx": 4, "fontSize": 12, "fontWeight": "bold", "font": "Liberation Serif"},
          "encoding": {
            "x": {"field": "name", "type": "nominal", "bandPosition": 0,
              "axis": {"orient": "bottom", "labels": false, "ticks": false, "domain": false, "title": "* p<=0.05  ** p<=0.01  *** p<=0.001", "titleAnchor": "start", "titlePadding": 2, "titleFontSize": 13}},
            "y": {"field": "row", "type": "nominal", "axis": null},
            "text": {"field": "name"}
          }
        },
        {
          "data": {"name": "d"},
          "mark": {"type": "circle", "opacity": 1},
          "encoding": {
            "x": {"field": "col", "type": "nominal", "axis": null},
            "y": {"field": "row", "type": "nominal", "axis": null},
            "color": {"field": "r", "type": "quantitative",
              "scale": {"domain": [-1, 0, 1], "range": ["#00008B", "#FFFFFF", "#FF0000"], "interpolate": "rgb"},
              "legend": {"type": "gradient", "orient": "none", "legendX": 349, "legendY": 4, "direction": "vertical", "title": null, "gradientLength": 260, "gradientThickness": 22, "values": [1, 0.8, 0.6, 0.4, 0.2, 0, -0.2, -0.4, -0.6, -0.8, -1], "labelExpr": "toString(datum.value)", "labelFontSize": 11, "labelOffset": 8, "labelOverlap": false, "gradientStrokeColor": "#999", "gradientStrokeWidth": 1}},
            "size": {"field": "r", "type": "quantitative", "scale": {"domain": [-1.001, 0, 1.001], "range": [431, 0, 431]}, "legend": null}
          }
        },
        {
          "data": {"name": "d"},
          "mark": {"type": "text", "fontSize": 11, "dy": 3, "color": "#222", "font": "Liberation Serif"},
          "encoding": {
            "x": {"field": "col", "type": "nominal", "axis": null},
            "y": {"field": "row", "type": "nominal", "axis": null},
            "text": {"field": "s"}
          }
        }
      ]
    },
    {
      "width": 347,
      "height": 248,
      "view": {"stroke": "#808080", "strokeWidth": 1.5},
      "title": {"text": "(e)", "offset": 67, "dx": -9},
      "resolve": {"axis": {"x": "independent"}},
      "layer": [
        {
          "data": {"name": "e"},
          "mark": {"type": "rect", "fill": "white", "stroke": "#e8e8e8", "strokeWidth": 1},
          "encoding": {
            "x": {"field": "col", "type": "nominal",
              "scale": {"domain": ["Glu", "Ala", "Gly", "Malic acid", "Lactic acid", "Acetic acid", "Citric acid", "Succinic acid", "GMP", "IMP", "AMP"], "paddingInner": 0, "paddingOuter": 0},
              "axis": {"orient": "top", "title": null, "domain": false, "ticks": false, "labelExpr": "datum.value == 'Glu' ? 'Glu' : ''", "bandPosition": 0, "labelAlign": "left", "labelOffset": 5, "labelPadding": 4, "labelFontSize": 12, "labelAngle": 0}},
            "y": {"field": "row", "type": "nominal",
              "scale": {"domain": ["Glu", "Ala", "Gly", "Malic acid", "Lactic acid", "Acetic acid", "Citric acid", "Succinic acid", "GMP", "IMP", "AMP"], "paddingInner": 0, "paddingOuter": 0},
              "axis": {"title": null, "domain": false, "ticks": false, "labelPadding": 4, "labelFontSize": 12}}
          }
        },
        {
          "data": {"name": "lab"},
          "mark": {"type": "rect", "fill": "white", "stroke": "#e8e8e8", "strokeWidth": 1},
          "encoding": {
            "x": {"field": "name", "type": "nominal", "axis": null},
            "y": {"field": "row", "type": "nominal", "axis": null}
          }
        },
        {
          "data": {"name": "lab"},
          "mark": {"type": "text", "align": "left", "dx": 4, "fontSize": 12, "fontWeight": "bold", "font": "Liberation Serif"},
          "encoding": {
            "x": {"field": "name", "type": "nominal", "bandPosition": 0,
              "axis": {"orient": "bottom", "labels": false, "ticks": false, "domain": false, "title": "* p<=0.05  ** p<=0.01  *** p<=0.001", "titleAnchor": "start", "titlePadding": 2, "titleFontSize": 13}},
            "y": {"field": "row", "type": "nominal", "axis": null},
            "text": {"field": "name"}
          }
        },
        {
          "data": {"name": "e"},
          "mark": {"type": "circle", "opacity": 1},
          "encoding": {
            "x": {"field": "col", "type": "nominal", "axis": null},
            "y": {"field": "row", "type": "nominal", "axis": null},
            "color": {"field": "r", "type": "quantitative",
              "scale": {"domain": [-1, 0, 1], "range": ["#00008B", "#FFFFFF", "#FF0000"], "interpolate": "rgb"},
              "legend": {"type": "gradient", "orient": "none", "legendX": 350, "legendY": 4, "direction": "vertical", "title": null, "gradientLength": 260, "gradientThickness": 22, "values": [1, 0.8, 0.6, 0.4, 0.2, 0, -0.2, -0.4, -0.6, -0.8, -1], "labelExpr": "toString(datum.value)", "labelFontSize": 11, "labelOffset": 8, "labelOverlap": false, "gradientStrokeColor": "#999", "gradientStrokeWidth": 1}},
            "size": {"field": "r", "type": "quantitative", "scale": {"domain": [-1.001, 0, 1.001], "range": [431, 0, 431]}, "legend": null}
          }
        },
        {
          "data": {"name": "e"},
          "mark": {"type": "text", "fontSize": 11, "dy": 3, "color": "#222", "font": "Liberation Serif"},
          "encoding": {
            "x": {"field": "col", "type": "nominal", "axis": null},
            "y": {"field": "row", "type": "nominal", "axis": null},
            "text": {"field": "s"}
          }
        }
      ]
    },
    {
      "width": 346,
      "height": 248,
      "view": {"stroke": "#808080", "strokeWidth": 1.5},
      "title": {"text": "(f)", "offset": 67, "dx": -9},
      "resolve": {"axis": {"x": "independent"}},
      "layer": [
        {
          "data": {"name": "f"},
          "mark": {"type": "rect", "fill": "white", "stroke": "#e8e8e8", "strokeWidth": 1},
          "encoding": {
            "x": {"field": "col", "type": "nominal",
              "scale": {"domain": ["Glu", "Ala", "Gly", "Malic acid", "Lactic acid", "Acetic acid", "Citric acid", "Succinic acid", "GMP", "IMP", "AMP"], "paddingInner": 0, "paddingOuter": 0},
              "axis": {"orient": "top", "title": null, "domain": false, "ticks": false, "labelExpr": "datum.value == 'Glu' ? 'Glu' : ''", "bandPosition": 0, "labelAlign": "left", "labelOffset": 5, "labelPadding": 4, "labelFontSize": 12, "labelAngle": 0}},
            "y": {"field": "row", "type": "nominal",
              "scale": {"domain": ["Glu", "Ala", "Gly", "Malic acid", "Lactic acid", "Acetic acid", "Citric acid", "Succinic acid", "GMP", "IMP", "AMP"], "paddingInner": 0, "paddingOuter": 0},
              "axis": {"title": null, "domain": false, "ticks": false, "labelPadding": 4, "labelFontSize": 12}}
          }
        },
        {
          "data": {"name": "lab"},
          "mark": {"type": "rect", "fill": "white", "stroke": "#e8e8e8", "strokeWidth": 1},
          "encoding": {
            "x": {"field": "name", "type": "nominal", "axis": null},
            "y": {"field": "row", "type": "nominal", "axis": null}
          }
        },
        {
          "data": {"name": "lab"},
          "mark": {"type": "text", "align": "left", "dx": 4, "fontSize": 12, "fontWeight": "bold", "font": "Liberation Serif"},
          "encoding": {
            "x": {"field": "name", "type": "nominal", "bandPosition": 0,
              "axis": {"orient": "bottom", "labels": false, "ticks": false, "domain": false, "title": "* p<=0.05  ** p<=0.01  *** p<=0.001", "titleAnchor": "start", "titlePadding": 2, "titleFontSize": 13}},
            "y": {"field": "row", "type": "nominal", "axis": null},
            "text": {"field": "name"}
          }
        },
        {
          "data": {"name": "f"},
          "mark": {"type": "circle", "opacity": 1},
          "encoding": {
            "x": {"field": "col", "type": "nominal", "axis": null},
            "y": {"field": "row", "type": "nominal", "axis": null},
            "color": {"field": "r", "type": "quantitative",
              "scale": {"domain": [-1, 0, 1], "range": ["#00008B", "#FFFFFF", "#FF0000"], "interpolate": "rgb"},
              "legend": {"type": "gradient", "orient": "none", "legendX": 349, "legendY": 4, "direction": "vertical", "title": null, "gradientLength": 260, "gradientThickness": 22, "values": [1, 0.8, 0.6, 0.4, 0.2, 0, -0.2, -0.4, -0.6, -0.8, -1], "labelExpr": "toString(datum.value)", "labelFontSize": 11, "labelOffset": 8, "labelOverlap": false, "gradientStrokeColor": "#999", "gradientStrokeWidth": 1}},
            "size": {"field": "r", "type": "quantitative", "scale": {"domain": [-1.001, 0, 1.001], "range": [431, 0, 431]}, "legend": null}
          }
        },
        {
          "data": {"name": "f"},
          "mark": {"type": "text", "fontSize": 11, "dy": 3, "color": "#222", "font": "Liberation Serif"},
          "encoding": {
            "x": {"field": "col", "type": "nominal", "axis": null},
            "y": {"field": "row", "type": "nominal", "axis": null},
            "text": {"field": "s"}
          }
        }
      ]
    }
  ],
  "config": {
    "font": "Liberation Serif",
    "view": {"stroke": null},
    "axis": {
      "grid": false,
      "labelFont": "Liberation Serif", "titleFont": "Liberation Serif",
      "labelFontWeight": "bold", "titleFontWeight": "bold",
      "labelColor": "#000", "titleColor": "#000",
      "domainColor": "#000", "tickColor": "#000",
      "domainWidth": 2, "tickWidth": 2, "tickSize": 5
    },
    "legend": {"labelFont": "Liberation Serif", "labelFontWeight": "bold", "labelColor": "#000"},
    "title": {"font": "Liberation Serif", "fontSize": 24, "fontWeight": "bold", "color": "#000", "orient": "bottom", "anchor": "middle", "frame": "group"},
    "text": {"font": "Liberation Serif"}
  }
}
